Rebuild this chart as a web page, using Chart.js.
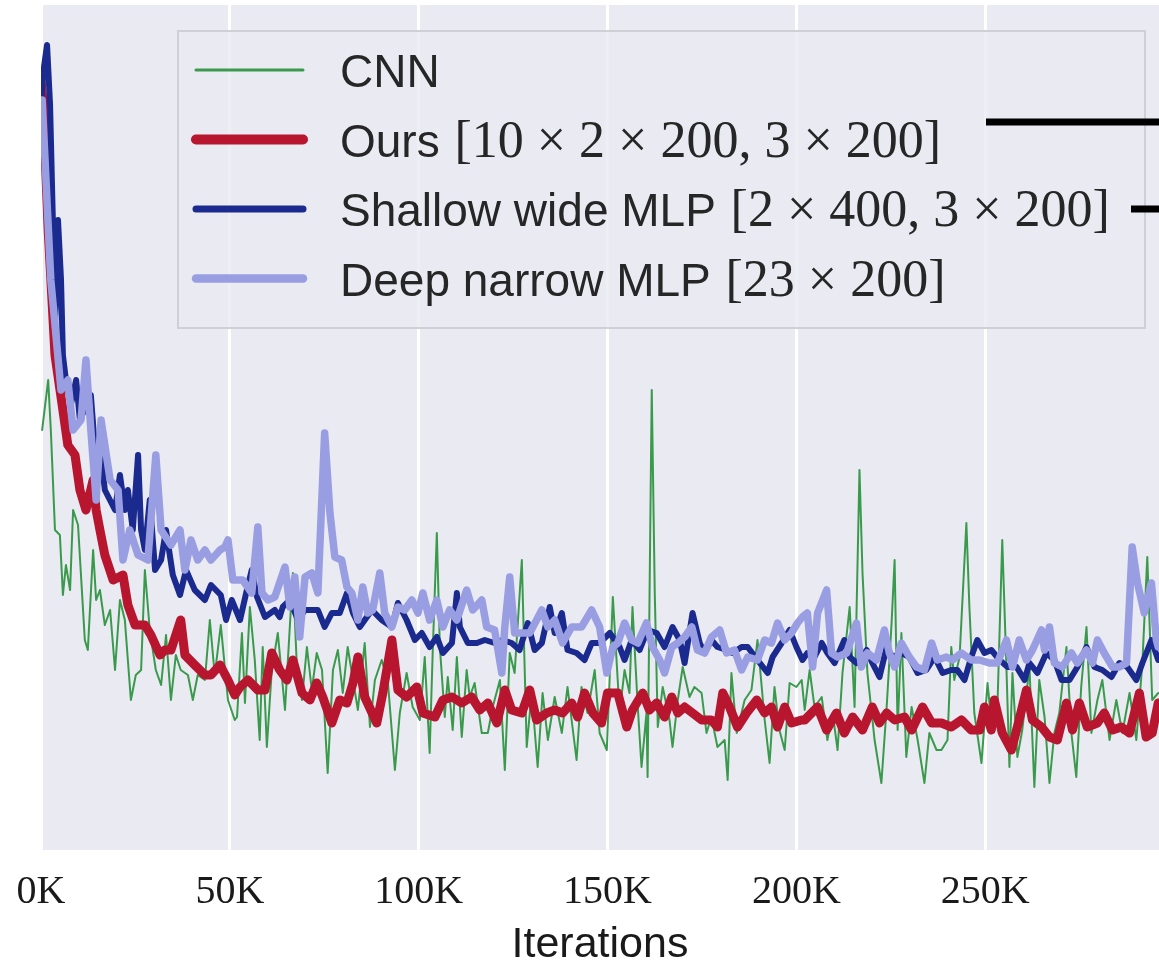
<!DOCTYPE html>
<html>
<head>
<meta charset="utf-8">
<script src="https://cdn.jsdelivr.net/npm/chart.js@4.4.1/dist/chart.umd.min.js"></script>
<style>
  body { margin: 0; background: #ffffff; }
  #chart { display: block; }
</style>
</head>
<body>
<canvas id="chart" width="1159" height="967"></canvas>
<script>
// iterations are in thousands (K), loss in arbitrary units (y labels cropped in source)
const cnn = [
  [0.3, 42.0], [1.9, 47.0], [2.6, 42.0], [3.7, 32.0], [5.0, 31.5], [5.8, 25.5], [6.6, 28.5], [7.7, 26.0],
  [8.5, 34.0], [9.8, 32.5], [11.6, 21.0], [12.4, 20.0], [13.8, 30.0], [14.6, 25.0], [15.6, 26.0], [16.9, 22.5],
  [18.3, 24.0], [19.6, 18.0], [20.9, 25.0], [22.2, 23.0], [23.8, 15.0], [25.1, 17.5], [26.5, 18.0], [27.5, 28.0],
  [28.8, 22.0], [30.4, 18.0], [31.8, 16.5], [33.1, 21.5], [34.4, 15.0], [35.7, 19.5], [37.0, 18.0], [38.9, 17.5],
  [40.2, 15.0], [41.5, 17.5], [43.4, 17.0], [44.7, 23.0], [46.0, 17.5], [47.6, 22.5], [49.5, 15.0], [51.3, 13.0],
  [51.9, 13.3], [53.2, 21.7], [54.0, 14.7], [55.3, 24.3], [56.6, 19.0], [57.9, 11.0], [58.7, 20.3], [59.8, 10.3],
  [61.1, 18.0], [62.7, 21.7], [64.6, 14.0], [66.7, 27.7], [67.7, 18.7], [69.1, 15.0], [70.4, 20.3], [71.7, 16.0],
  [73.0, 19.7], [74.4, 18.0], [75.9, 7.7], [77.3, 18.0], [78.6, 20.0], [79.9, 15.7], [81.2, 20.3], [82.6, 17.0],
  [83.9, 14.0], [85.7, 20.7], [87.1, 12.3], [88.4, 17.0], [90.2, 19.0], [91.8, 17.0], [93.7, 8.0], [95.0, 13.7],
  [96.8, 17.7], [98.4, 14.3], [100.3, 13.0], [101.6, 19.3], [102.9, 9.7], [103.7, 19.7], [104.8, 31.7], [105.6, 20.3],
  [106.9, 13.3], [107.7, 17.3], [109.0, 12.0], [110.1, 19.3], [111.4, 11.3], [112.7, 18.0], [113.5, 15.3], [114.8, 16.7],
  [116.7, 11.7], [118.3, 11.7], [119.6, 14.3], [121.5, 17.0], [122.8, 8.0], [124.1, 19.7], [125.4, 17.7], [127.3, 29.0],
  [128.6, 10.3], [129.9, 15.7], [131.5, 8.3], [132.8, 15.7], [134.2, 11.0], [136.0, 15.3], [137.9, 11.7], [139.4, 16.3],
  [141.8, 9.0], [143.1, 16.3], [144.7, 13.7], [146.6, 18.0], [147.9, 11.7], [149.8, 10.0], [151.4, 25.3], [153.2, 13.7],
  [154.5, 18.0], [155.8, 15.7], [156.6, 24.3], [158.0, 14.3], [159.0, 8.3], [160.3, 13.7], [160.6, 7.3], [161.7, 46.0],
  [162.5, 25.7], [163.3, 12.3], [164.6, 16.3], [166.4, 13.0], [167.2, 10.3], [168.6, 15.0], [169.9, 18.3], [171.7, 15.3],
  [173.0, 16.3], [174.9, 15.7], [176.2, 11.7], [177.5, 13.3], [179.1, 10.3], [181.0, 11.0], [181.8, 7.0], [182.8, 17.7],
  [184.2, 11.7], [186.3, 15.0], [188.1, 16.0], [189.7, 21.0], [191.6, 13.0], [192.9, 8.7], [194.2, 16.3], [195.5, 12.0],
  [196.9, 10.0], [198.2, 16.7], [200.0, 16.3], [201.4, 17.0], [202.2, 14.0], [203.5, 18.0], [204.8, 14.3], [206.7, 15.3],
  [208.2, 11.0], [209.6, 13.7], [210.9, 10.0], [212.2, 17.7], [214.1, 24.3], [215.4, 14.3], [216.7, 38.0], [217.5, 27.7],
  [218.8, 17.7], [220.7, 11.0], [222.5, 6.7], [223.9, 14.3], [225.2, 22.7], [226.0, 29.0], [226.8, 12.0], [227.8, 21.7],
  [229.1, 9.3], [230.5, 14.3], [232.1, 11.0], [233.9, 6.7], [235.2, 11.7], [237.1, 10.0], [238.4, 10.0], [240.0, 11.0],
  [241.0, 20.3], [241.8, 17.0], [243.2, 19.3], [245.0, 32.7], [245.8, 24.3], [247.1, 13.7], [249.0, 8.7], [250.6, 16.7],
  [251.9, 11.7], [253.2, 14.0], [254.5, 31.0], [255.6, 18.3], [256.4, 8.3], [257.2, 17.7], [258.5, 9.3], [259.8, 12.0],
  [261.7, 18.3], [263.0, 6.3], [264.3, 17.0], [265.7, 13.3], [267.0, 6.7], [268.3, 11.7], [269.6, 13.7], [271.5, 20.3],
  [272.8, 11.7], [274.1, 7.3], [275.4, 16.3], [276.8, 22.3], [278.1, 11.7], [279.7, 15.0], [281.0, 17.0], [282.9, 11.0],
  [284.7, 15.0], [286.3, 11.7], [288.2, 15.7], [290.0, 11.0], [291.6, 18.7], [292.9, 29.3], [294.2, 15.0], [295.8, 15.7]
];

const ours = [
  [0.0, 77.0], [0.5, 75.0], [1.9, 62.0], [3.7, 49.5], [5.8, 44.0], [7.1, 40.5], [9.0, 39.5], [10.3, 36.0],
  [11.9, 34.0], [13.8, 37.0], [14.6, 34.0], [15.6, 32.0], [16.9, 29.5], [19.1, 27.0], [21.7, 27.5], [23.0, 24.5],
  [24.9, 22.5], [27.5, 22.5], [29.1, 21.5], [31.5, 19.5], [32.8, 20.0], [34.4, 20.0], [37.0, 23.0], [38.1, 19.5],
  [40.7, 18.5], [43.4, 17.5], [45.0, 17.5], [47.4, 18.5], [49.5, 17.0], [51.3, 15.5], [52.7, 16.3], [54.8, 17.0],
  [57.4, 16.0], [59.3, 16.0], [61.1, 19.7], [63.2, 18.0], [65.1, 17.0], [66.7, 19.0], [69.1, 15.7], [71.2, 15.0],
  [73.0, 16.7], [74.6, 15.3], [77.0, 12.7], [79.1, 15.0], [81.0, 14.7], [82.6, 16.7], [83.9, 19.3], [85.7, 15.3],
  [88.9, 12.7], [90.5, 15.7], [92.9, 21.0], [94.5, 16.0], [96.8, 15.3], [99.5, 16.3], [101.1, 13.7], [104.3, 13.3],
  [106.4, 15.0], [108.8, 15.3], [111.4, 14.7], [114.0, 15.3], [116.2, 14.0], [118.3, 14.7], [120.7, 12.7], [122.8, 16.0],
  [124.6, 14.0], [127.3, 13.7], [129.4, 16.0], [131.2, 13.0], [133.9, 13.7], [136.0, 14.0], [138.1, 13.7], [140.5, 14.7],
  [142.1, 13.3], [143.9, 15.7], [146.1, 13.7], [148.4, 12.7], [150.0, 15.7], [152.7, 15.7], [155.1, 12.3], [156.6, 14.0],
  [159.3, 15.7], [161.1, 14.0], [163.0, 14.7], [165.1, 13.3], [167.0, 15.3], [168.6, 13.7], [170.4, 14.3], [172.5, 13.7],
  [174.9, 13.0], [177.5, 13.0], [179.1, 12.3], [180.5, 15.7], [182.3, 14.3], [184.4, 12.3], [186.8, 13.7], [189.5, 15.0],
  [191.6, 13.7], [193.4, 14.3], [195.0, 12.3], [196.9, 14.3], [198.7, 12.7], [201.4, 13.0], [202.2, 13.0], [205.6, 14.3],
  [208.0, 12.0], [210.6, 13.7], [212.7, 11.7], [214.9, 13.3], [217.5, 12.0], [220.1, 14.3], [222.0, 12.7], [223.9, 13.7],
  [226.0, 13.0], [228.6, 13.3], [230.5, 12.0], [233.4, 14.3], [235.8, 12.7], [238.4, 12.7], [241.0, 12.3], [243.7, 13.0],
  [246.3, 12.0], [248.5, 12.0], [249.8, 14.3], [251.6, 12.0], [252.4, 15.0], [254.5, 11.7], [256.9, 10.0], [258.5, 12.3],
  [260.9, 16.0], [262.5, 13.0], [264.9, 12.3], [267.0, 11.3], [269.1, 11.0], [271.5, 14.7], [273.1, 12.0], [274.9, 14.7],
  [277.0, 12.3], [279.7, 12.7], [281.5, 13.7], [283.7, 12.0], [286.0, 12.3], [288.2, 11.7], [290.8, 15.7], [292.6, 11.3],
  [294.2, 11.7], [295.8, 14.7]
];

const shallow = [
  [0.0, 74.0], [0.5, 77.5], [1.6, 80.5], [2.4, 74.5], [3.2, 62.0], [3.7, 52.0], [4.5, 63.0], [5.3, 57.0],
  [5.8, 49.5], [6.6, 47.0], [7.9, 44.5], [9.3, 47.0], [10.3, 43.0], [13.2, 45.5], [14.6, 38.5], [15.6, 40.5],
  [16.9, 36.0], [19.6, 34.0], [20.9, 37.5], [22.2, 34.0], [23.0, 36.0], [24.3, 32.0], [25.7, 39.5], [26.5, 32.0],
  [27.5, 30.0], [28.8, 35.0], [30.2, 28.0], [31.8, 29.0], [33.1, 32.0], [34.9, 27.5], [36.8, 25.5], [38.4, 28.0],
  [40.7, 26.0], [43.4, 25.0], [45.0, 26.5], [47.6, 25.5], [49.0, 23.0], [50.5, 25.0], [52.7, 23.0], [54.5, 26.0],
  [55.8, 28.0], [57.2, 25.3], [59.3, 23.3], [61.9, 24.0], [63.2, 23.3], [64.0, 24.3], [65.9, 25.0], [68.0, 23.0],
  [69.9, 24.0], [73.3, 24.0], [75.1, 22.3], [77.0, 23.7], [79.1, 23.7], [81.0, 25.7], [82.6, 23.7], [84.4, 22.3],
  [87.6, 24.0], [90.2, 23.0], [92.9, 22.3], [94.5, 24.7], [96.8, 23.0], [99.0, 21.0], [100.8, 21.7], [102.9, 20.3],
  [104.8, 21.3], [106.4, 19.7], [108.8, 20.7], [110.1, 25.7], [110.9, 22.3], [113.0, 20.7], [115.4, 20.7], [117.5, 21.0],
  [120.1, 20.7], [122.2, 21.0], [124.6, 20.7], [126.7, 20.0], [128.9, 22.7], [130.7, 20.0], [132.6, 20.7], [134.7, 24.3],
  [136.0, 21.7], [137.9, 23.7], [139.4, 20.0], [141.8, 19.7], [143.9, 19.0], [145.8, 20.7], [147.9, 20.7], [150.6, 21.7],
  [153.2, 20.3], [154.5, 19.0], [156.4, 21.0], [158.5, 20.0], [160.6, 22.0], [163.0, 21.7], [165.1, 20.3], [167.2, 22.3],
  [169.1, 21.0], [170.4, 18.7], [172.5, 23.7], [174.4, 20.7], [175.7, 19.7], [177.5, 21.0], [179.1, 20.3], [181.5, 20.0],
  [183.1, 19.7], [185.5, 20.3], [187.1, 20.3], [189.7, 19.0], [192.4, 17.7], [193.7, 19.3], [196.1, 20.7], [198.2, 22.0],
  [200.0, 20.3], [201.6, 19.0], [202.9, 19.7], [204.8, 19.3], [206.7, 20.7], [208.2, 19.7], [210.1, 18.7], [212.7, 21.0],
  [214.1, 19.3], [215.9, 18.7], [218.6, 20.0], [220.1, 18.7], [222.0, 17.3], [223.9, 20.3], [225.4, 19.3], [227.8, 19.7],
  [229.9, 19.3], [232.1, 17.7], [234.4, 18.0], [236.6, 19.3], [238.7, 17.7], [241.0, 18.0], [242.6, 18.0], [244.5, 17.0],
  [246.3, 19.3], [247.9, 21.0], [249.8, 19.7], [251.6, 20.0], [253.8, 19.0], [255.9, 18.3], [258.3, 18.3], [260.4, 17.0],
  [261.7, 18.7], [263.8, 17.7], [266.2, 19.7], [268.3, 19.0], [270.2, 17.0], [272.3, 17.0], [274.4, 18.3], [276.8, 20.3],
  [278.9, 18.3], [281.0, 18.0], [283.4, 17.3], [285.5, 18.7], [287.6, 18.3], [290.0, 17.0], [291.6, 18.7], [294.0, 21.0],
  [295.8, 19.0]
];

const deep = [
  [0.3, 75.0], [2.6, 57.0], [5.3, 46.0], [7.1, 47.0], [8.5, 42.0], [10.6, 43.0], [11.9, 49.0], [13.2, 42.0],
  [14.6, 35.0], [15.9, 43.0], [18.3, 37.0], [20.4, 36.0], [21.7, 29.0], [23.5, 32.0], [25.7, 29.5], [28.3, 29.0],
  [30.4, 39.5], [31.8, 32.0], [34.4, 30.5], [36.8, 32.0], [38.1, 28.0], [39.7, 31.0], [41.5, 29.0], [43.4, 30.0],
  [45.0, 29.0], [47.4, 30.0], [48.7, 30.3], [49.5, 31.0], [50.8, 27.0], [53.4, 27.0], [55.8, 25.7], [57.4, 32.3],
  [58.5, 25.7], [60.1, 25.0], [61.9, 25.3], [64.6, 28.3], [65.9, 24.3], [67.2, 27.3], [68.5, 21.3], [69.9, 27.3],
  [71.7, 27.7], [73.3, 25.7], [75.1, 41.7], [76.5, 33.7], [77.8, 29.3], [79.6, 29.0], [81.0, 26.3], [82.3, 25.7],
  [83.9, 23.0], [85.2, 26.3], [86.5, 23.7], [87.8, 24.0], [89.7, 27.7], [91.0, 23.7], [92.9, 22.3], [94.5, 24.3],
  [96.3, 24.0], [98.2, 25.0], [99.8, 23.7], [101.1, 25.7], [102.9, 23.0], [104.8, 25.0], [106.4, 22.3], [108.2, 24.0],
  [110.1, 23.0], [112.7, 26.0], [114.3, 24.0], [116.7, 25.0], [118.0, 22.3], [120.1, 22.0], [122.0, 17.7], [122.8, 22.3],
  [124.1, 27.3], [125.4, 21.7], [127.3, 21.7], [129.4, 21.7], [132.6, 24.0], [134.2, 22.3], [136.0, 23.0], [138.1, 20.7],
  [140.5, 22.3], [143.1, 22.3], [145.8, 24.0], [147.9, 22.3], [149.8, 17.7], [151.4, 20.3], [152.7, 20.7], [154.5, 22.7],
  [156.4, 21.0], [158.0, 20.7], [160.3, 22.7], [161.9, 20.3], [163.8, 19.0], [165.1, 17.7], [167.0, 20.3], [168.6, 20.7],
  [170.4, 21.3], [172.3, 22.3], [173.8, 20.0], [175.7, 19.7], [177.5, 21.3], [179.7, 22.0], [181.5, 19.7], [183.6, 20.0],
  [185.5, 18.0], [187.1, 19.3], [189.7, 19.0], [191.6, 21.0], [193.4, 20.7], [195.0, 22.7], [196.9, 21.0], [198.7, 21.7],
  [200.3, 22.7], [201.6, 23.3], [202.9, 23.7], [204.3, 18.3], [205.6, 23.7], [208.0, 26.0], [209.3, 19.7], [210.9, 19.3],
  [213.3, 19.7], [215.9, 22.7], [217.2, 18.3], [218.8, 19.7], [221.2, 19.0], [223.3, 22.0], [224.6, 19.7], [226.0, 18.3],
  [227.8, 20.7], [229.9, 19.3], [231.8, 18.3], [233.9, 18.0], [235.8, 20.7], [237.3, 19.0], [239.7, 19.3], [241.3, 19.0],
  [243.7, 19.7], [246.3, 19.0], [248.5, 19.0], [251.1, 18.7], [253.2, 18.7], [255.6, 21.0], [257.2, 18.3], [259.0, 21.0],
  [260.9, 19.0], [262.5, 20.0], [264.9, 22.0], [265.7, 20.0], [267.0, 22.3], [268.3, 18.7], [270.4, 18.3], [272.8, 19.7],
  [274.4, 18.7], [276.8, 20.0], [278.4, 18.7], [279.7, 21.0], [281.5, 19.7], [283.7, 18.3], [285.5, 18.3], [287.4, 18.7],
  [288.9, 30.3], [290.3, 26.7], [292.1, 23.7], [294.0, 26.7], [295.3, 21.0], [295.8, 20.3]
];

const seriesNames = [
  ["CNN", ""],
  ["Ours ", "[10 \u00d7 2 \u00d7 200, 3 \u00d7 200]"],
  ["Shallow wide MLP ", "[2 \u00d7 400, 3 \u00d7 200]"],
  ["Deep narrow MLP ", "[23 \u00d7 200]"],
];
const seriesColors = ["#3a9a4c", "#b8152e", "#1b2a8e", "#999ee3"];
const seriesWidths = [2, 9, 6, 7.5];

const xTicks = [0, 50000, 100000, 150000, 200000, 250000];
const xMax = 296000;
const yMin = 0;
const yMax = 84.5;

const toXY = (arr) => arr.map(([k, v]) => ({ x: k * 1000, y: v }));

const sansFont = "'Liberation Sans', Arial, sans-serif";
const serifFont = "'Liberation Serif', 'DejaVu Serif', serif";

const bgPlugin = {
  id: "bg",
  beforeDraw: (chart) => {
    const { ctx, chartArea: a } = chart;
    ctx.save();
    ctx.fillStyle = "#ffffff";
    ctx.fillRect(0, 0, chart.width, chart.height);
    ctx.fillStyle = "#eaeaf2";
    ctx.fillRect(a.left, a.top, a.right - a.left, a.bottom - a.top);
    ctx.restore();
  },
};

const legendPlugin = {
  id: "boxLegend",
  afterDatasetsDraw: (chart) => {
    const { ctx, chartArea: a } = chart;
    const x0 = a.left + 137;
    const y0 = a.top + 26;
    const w = 967;
    const h = 297;
    ctx.save();
    ctx.fillStyle = "rgba(234, 234, 242, 0.8)";
    ctx.fillRect(x0, y0, w, h);
    ctx.strokeStyle = "#cfcfd6";
    ctx.lineWidth = 2;
    ctx.strokeRect(x0, y0, w, h);

    ctx.lineCap = "round";
    for (let i = 0; i < seriesNames.length; i++) {
      const yy = y0 + 39 + i * 69.5;
      ctx.strokeStyle = seriesColors[i];
      ctx.lineWidth = seriesWidths[i] + 1;
      ctx.beginPath();
      ctx.moveTo(x0 + 18, yy);
      ctx.lineTo(x0 + 125, yy);
      ctx.stroke();

      ctx.fillStyle = "#262626";
      ctx.textBaseline = "alphabetic";
      ctx.font = "46px " + sansFont;
      let tx = x0 + 162;
      ctx.fillText(seriesNames[i][0], tx, yy + 17);
      tx += ctx.measureText(seriesNames[i][0]).width + 2;
      ctx.font = "52px " + serifFont;
      ctx.fillText(seriesNames[i][1], tx, yy + 17);
    }

    // arrows from the neighbouring panel, cut off at the right edge
    ctx.strokeStyle = "#000000";
    ctx.lineCap = "butt";
    ctx.lineWidth = 7;
    ctx.beginPath();
    ctx.moveTo(x0 + 808, y0 + 91);
    ctx.lineTo(chart.width, y0 + 91);
    ctx.moveTo(x0 + 953, y0 + 178);
    ctx.lineTo(chart.width, y0 + 178);
    ctx.stroke();
    ctx.restore();
  },
};

const datasets = [cnn, ours, shallow, deep].map((d, i) => ({
  label: seriesNames[i].join(""),
  data: toXY(d),
  borderColor: seriesColors[i],
  borderWidth: seriesWidths[i],
  pointRadius: 0,
  tension: 0,
  fill: false,
  borderJoinStyle: "round",
  borderCapStyle: "round",
  order: 3 - i,
}));

new Chart(document.getElementById("chart"), {
  type: "line",
  data: { datasets },
  options: {
    responsive: false,
    devicePixelRatio: 1,
    animation: false,
    layout: { padding: { left: 41, right: 0, top: 5, bottom: 0 } },
    plugins: {
      legend: { display: false },
      tooltip: { enabled: false },
    },
    scales: {
      x: {
        type: "linear",
        min: 0,
        max: xMax,
        border: { display: false },
        grid: { color: "#ffffff", lineWidth: 3, drawTicks: false },
        afterBuildTicks: (scale) => {
          scale.ticks = xTicks.map((v) => ({ value: v }));
        },
        ticks: {
          maxRotation: 0,
          autoSkip: false,
          padding: 0,
          color: "#1a1a1a",
          font: { family: serifFont, size: 40, lineHeight: 2.1 },
          callback: (v) => v / 1000 + "K",
        },
        title: {
          display: true,
          text: "Iterations",
          color: "#1a1a1a",
          padding: { top: 0, bottom: 11 },
          font: { family: sansFont, size: 43, lineHeight: "22px" },
        },
      },
      y: {
        display: false,
        min: yMin,
        max: yMax,
      },
    },
  },
  plugins: [bgPlugin, legendPlugin],
});
</script>
</body>
</html>
